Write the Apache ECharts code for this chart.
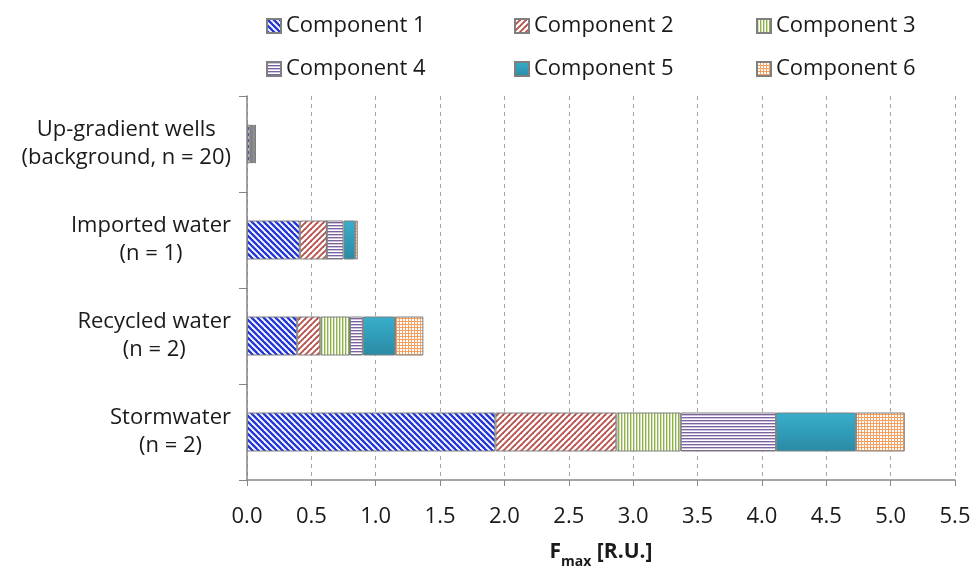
<!DOCTYPE html>
<html>
<head>
<meta charset="utf-8">
<script src="https://cdn.jsdelivr.net/npm/echarts@6/dist/echarts.min.js"></script>
<style>
html,body{margin:0;padding:0;background:#fff;}
#chart{width:972px;height:569px;}
</style>
</head>
<body>
<div id="chart"></div>
<script>
// ---- data ----
const categories = ['Stormwater\n(n = 2)', 'Recycled water\n(n = 2)', 'Imported water\n(n = 1)', 'Up-gradient wells\n(background, n = 20)'];
const seriesNames = ['Component 1', 'Component 2', 'Component 3', 'Component 4', 'Component 5', 'Component 6'];
const comp1 = [1.93, 0.39, 0.41, 0.02];
const comp2 = [0.94, 0.18, 0.21, 0.01];
const comp3 = [0.50, 0.23, 0.00, 0.01];
const comp4 = [0.74, 0.10, 0.13, 0.01];
const comp5 = [0.62, 0.25, 0.09, 0.01];
const comp6 = [0.38, 0.22, 0.02, 0.01];
const xTicks = [0, 0.5, 1, 1.5, 2, 2.5, 3, 3.5, 4, 4.5, 5, 5.5];

const FONT = '"Open Sans"';

function tile(w, h, draw) {
  const c = document.createElement('canvas');
  c.width = w; c.height = h;
  const ctx = c.getContext('2d');
  ctx.fillStyle = '#ffffff';
  ctx.fillRect(0, 0, w, h);
  draw(ctx);
  return { image: c, repeat: 'repeat' };
}
const patBlue = tile(6, 6, ctx => {
  ctx.strokeStyle = '#2437d8'; ctx.lineWidth = 2.4;
  for (let k = -1; k <= 1; k++) { ctx.beginPath(); ctx.moveTo(k * 6 - 1, -1); ctx.lineTo(k * 6 + 7, 7); ctx.stroke(); }
});
const patRed = tile(6, 6, ctx => {
  ctx.strokeStyle = '#b8514e'; ctx.lineWidth = 1.9;
  for (let k = -1; k <= 1; k++) { ctx.beginPath(); ctx.moveTo(k * 6 - 1, 7); ctx.lineTo(k * 6 + 7, -1); ctx.stroke(); }
});
const patGreen = tile(3, 3, ctx => {
  ctx.fillStyle = '#8fb04f'; ctx.fillRect(0, 0, 1, 3);
  ctx.fillStyle = '#d3e3b3'; ctx.fillRect(1, 0, 1, 3);
});
const patPurple = tile(3, 3, ctx => {
  ctx.fillStyle = '#7d62a0'; ctx.fillRect(0, 0, 3, 1);
  ctx.fillStyle = '#cfc4de'; ctx.fillRect(0, 1, 3, 1);
});
const patOrange = tile(3, 3, ctx => {
  ctx.fillStyle = '#f3a061'; ctx.fillRect(0, 0, 3, 1); ctx.fillRect(0, 0, 1, 3);
});
const teal = new echarts.graphic.LinearGradient(0, 0, 0, 1, [
  { offset: 0, color: '#38afcc' }, { offset: 1, color: '#2a8aa4' }
]);

const fills = [patBlue, patRed, patGreen, patPurple, teal, patOrange];
const values = [comp1, comp2, comp3, comp4, comp5, comp6];

const chart = echarts.init(document.getElementById('chart'), null, { renderer: 'canvas' });

const legendText = { fontFamily: FONT, fontSize: 22, lineHeight: 22, color: '#1a1a1a' };
const legendCommon = { orient: 'vertical', top: 10, itemWidth: 14, itemHeight: 14, itemGap: 21, textStyle: legendText, icon: 'rect', selectedMode: false };

chart.setOption({
  animation: false,
  backgroundColor: '#ffffff',
  legend: [
    Object.assign({ left: 261, data: [seriesNames[0], seriesNames[3]] }, legendCommon),
    Object.assign({ left: 509, data: [seriesNames[1], seriesNames[4]] }, legendCommon),
    Object.assign({ left: 751, data: [seriesNames[2], seriesNames[5]] }, legendCommon)
  ],
  grid: { left: 247, right: 17, top: 96, bottom: 89, containLabel: false, outerBoundsMode: 'none' },
  xAxis: {
    type: 'value', min: 0, max: 5.5, interval: 0.5,
    axisLine: { show: true, lineStyle: { color: '#868686', width: 1.5 } },
    axisTick: { show: true, length: 6, lineStyle: { color: '#868686' } },
    splitLine: { show: true, lineStyle: { color: '#a6a6a6', type: [4, 4], width: 1 } },
    axisLabel: { margin: 26, fontFamily: FONT, fontSize: 22, color: '#1a1a1a',
      formatter: v => { const t = xTicks.find(x => Math.abs(x - v) < 1e-9); return (t !== undefined ? t : v).toFixed(1); } },
    name: '{b|F}{s|max}{b| [R.U.]}',
    nameLocation: 'middle', nameGap: 57,
    nameTextStyle: {
      rich: {
        b: { fontFamily: FONT, fontSize: 21, fontWeight: 'bold', color: '#1a1a1a', verticalAlign: 'bottom', lineHeight: 26 },
        s: { fontFamily: FONT, fontSize: 14, fontWeight: 'bold', color: '#1a1a1a', verticalAlign: 'bottom', lineHeight: 26, padding: [0, 0, -6, 0] }
      }
    }
  },
  yAxis: {
    type: 'category', data: categories,
    axisLine: { show: true, lineStyle: { color: '#868686', width: 1.5 } },
    axisTick: { show: true, length: 8, lineStyle: { color: '#868686' } },
    splitLine: { show: false },
    axisLabel: {
      margin: 16,
      formatter: v => v.split('\n').map(s => '{a|' + s + '}').join('\n'),
      rich: { a: { align: 'center', fontFamily: FONT, fontSize: 22, lineHeight: 28, color: '#1a1a1a' } }
    }
  },
  series: seriesNames.map((n, i) => ({
    name: n, type: 'bar', stack: 'total', barWidth: 39,
    data: values[i],
    itemStyle: { color: fills[i], borderColor: '#7f7f7f', borderWidth: 1 },
    emphasis: { disabled: true }
  }))
});
</script>
</body>
</html>
